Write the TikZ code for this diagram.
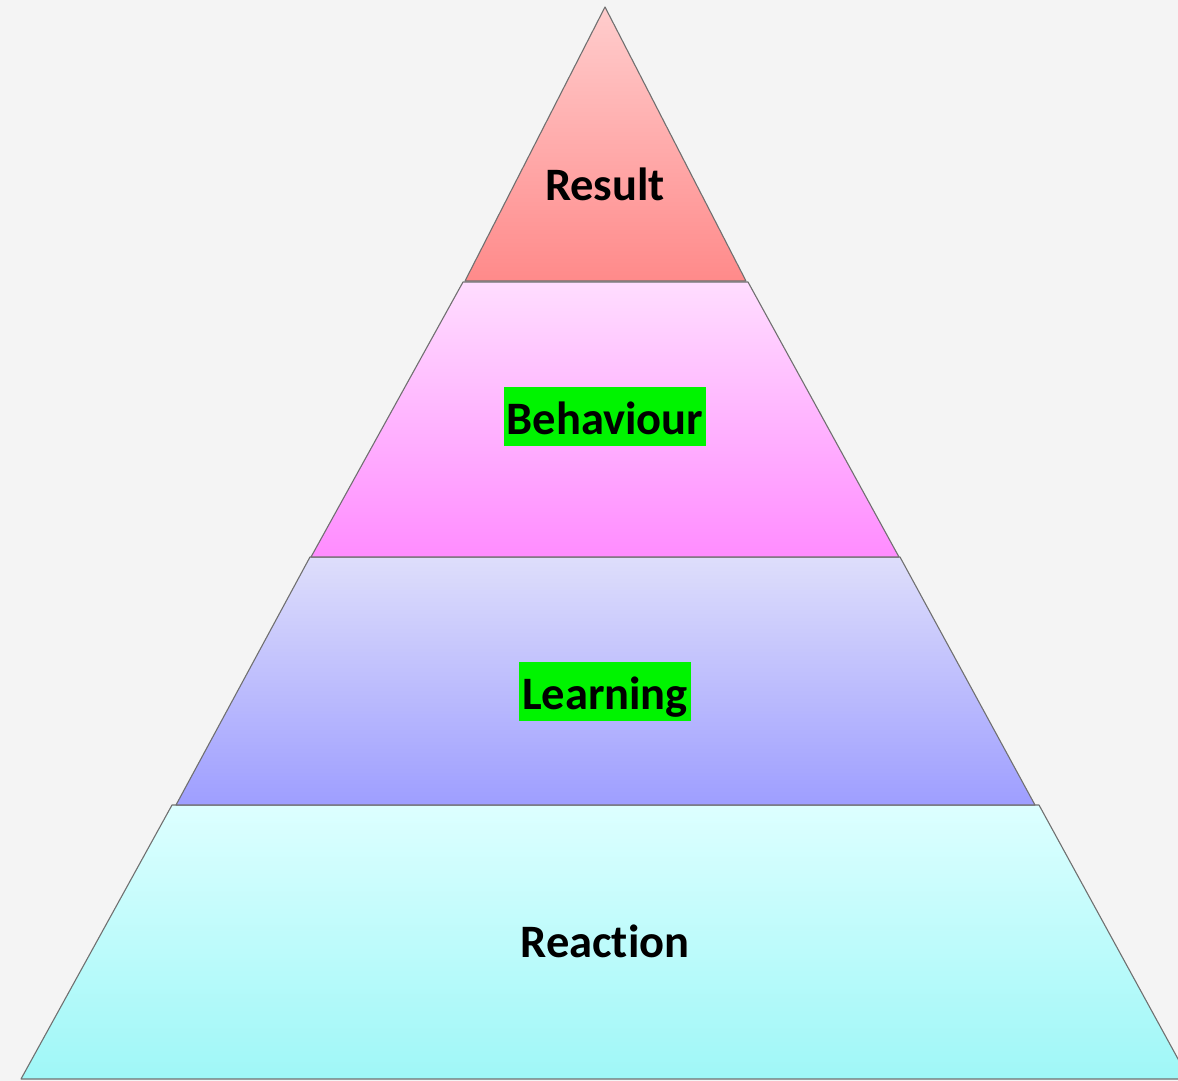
\documentclass[tikz,border=0pt]{standalone}
\usepackage{fontspec}
\setmainfont[Ligatures={NoCommon}]{Carlito}
\definecolor{bg}{HTML}{F4F4F4}
\definecolor{edge}{HTML}{707070}
\definecolor{resTop}{HTML}{FFCDCD}
\definecolor{resBot}{HTML}{FF8A8A}
\definecolor{behTop}{HTML}{FFDDFF}
\definecolor{behBot}{HTML}{FF8CFF}
\definecolor{lrnTop}{HTML}{DEDEFB}
\definecolor{lrnBot}{HTML}{9E9EFF}
\definecolor{reaTop}{HTML}{DDFFFF}
\definecolor{reaBot}{HTML}{9FF7F7}
\definecolor{hl}{HTML}{00F400}
\begin{document}
\begin{tikzpicture}[x=1pt,y=-1pt,
  tier/.style={draw=edge, line width=1.1pt, line join=round},
  label/.style={anchor=base, font=\fontsize{46.5}{52}\selectfont\bfseries, inner sep=0pt},
  marked/.style={label, fill=hl, inner xsep=3pt, text height=47pt, text depth=12pt}]
  \useasboundingbox[fill=bg] (0,0) rectangle (1178,1081);
  \begin{scope}
    \clip (0,0) rectangle (1178,1081);
    % bottom tier
    \shade[tier, top color=reaTop, bottom color=reaBot]
      (172,805) -- (1039,805) -- (1189,1079) -- (21,1079) -- cycle;
    % third tier
    \shade[tier, top color=lrnTop, bottom color=lrnBot]
      (310,557) -- (900,557) -- (1035,805) -- (176,805) -- cycle;
    % second tier
    \shade[tier, top color=behTop, bottom color=behBot]
      (463,282) -- (748,282) -- (899,557) -- (311,557) -- cycle;
    % apex
    \shade[tier, top color=resTop, bottom color=resBot]
      (605,7) -- (746,281) -- (465,281) -- cycle;
  \end{scope}
  \node[label]  (result)    at (605,200) {Result};
  \node[marked] (behaviour) at (605,434) {Behaviour};
  \node[marked] (learning)  at (605,709) {Learning};
  \node[label]  (reaction)  at (605,957) {Reaction};
\end{tikzpicture}
\end{document}
